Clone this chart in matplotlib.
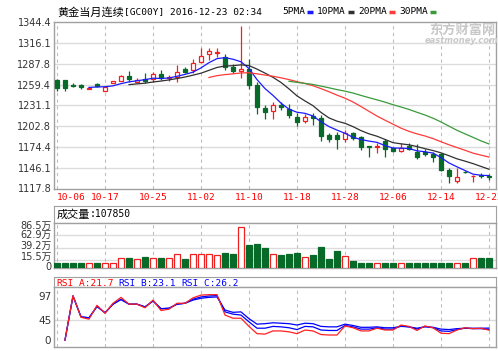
import numpy as np
import pandas as pd
import matplotlib
matplotlib.use('Agg')
import matplotlib.pyplot as plt
from matplotlib.lines import Line2D

plt.rcParams['font.family'] = ['DejaVu Sans', 'Noto Sans CJK SC']

# ---- data ----
date_labels = ['10-06', '10-17', '10-25', '11-02', '11-10', '11-18', '11-28', '12-06', '12-14', '12-22']

opens = [1265.6, 1265.6, 1258.9, 1259.0, 1254.0, 1260.0, 1251.0, 1262.0, 1264.6, 1271.0,
         1263.5, 1267.0, 1267.0, 1274.0, 1268.0, 1269.3, 1280.5, 1279.2, 1290.5, 1300.6,
         1302.5, 1296.9, 1283.7, 1278.0, 1280.6, 1259.4, 1228.0, 1223.8, 1231.5, 1225.7,
         1215.6, 1210.1, 1216.5, 1213.4, 1190.6, 1190.6, 1184.8, 1193.8, 1187.5, 1175.2,
         1174.0, 1183.0, 1172.5, 1169.3, 1175.7, 1167.9, 1167.9, 1164.8, 1164.8, 1143.0,
         1128.4, 1140.3, 1134.5, 1136.0, 1135.5]
highs = [1266.5, 1266.0, 1261.0, 1260.0, 1255.0, 1262.0, 1257.0, 1265.0, 1272.0, 1277.8,
         1268.0, 1275.0, 1277.0, 1279.0, 1272.0, 1286.0, 1283.7, 1293.8, 1309.6, 1309.6,
         1309.6, 1300.6, 1287.0, 1339.0, 1294.2, 1263.3, 1231.5, 1236.0, 1236.0, 1232.9,
         1220.2, 1219.3, 1220.2, 1217.9, 1193.0, 1195.2, 1197.5, 1195.2, 1189.3, 1175.7,
         1180.0, 1184.8, 1174.7, 1180.2, 1179.4, 1178.4, 1171.2, 1167.9, 1166.6, 1145.3,
         1145.3, 1141.0, 1136.0, 1139.3, 1138.0]
lows = [1250.6, 1250.6, 1256.0, 1254.0, 1253.0, 1256.0, 1250.5, 1261.0, 1264.0, 1263.0,
        1261.0, 1262.0, 1263.0, 1266.0, 1265.0, 1262.4, 1275.5, 1275.5, 1288.3, 1292.8,
        1297.0, 1279.2, 1274.7, 1268.0, 1253.3, 1219.0, 1213.0, 1212.0, 1224.7, 1213.4,
        1202.9, 1206.6, 1204.3, 1182.9, 1181.5, 1171.2, 1181.5, 1183.8, 1169.8, 1161.1,
        1166.0, 1160.3, 1168.0, 1168.0, 1170.2, 1157.6, 1162.1, 1154.3, 1142.0, 1124.9,
        1124.9, 1139.0, 1127.0, 1131.7, 1130.0]
closes = [1255.1, 1254.6, 1258.0, 1256.0, 1254.4, 1258.0, 1256.5, 1264.0, 1271.0, 1266.5,
          1265.5, 1264.0, 1274.0, 1269.0, 1270.0, 1276.9, 1277.0, 1289.1, 1298.3, 1305.5,
          1304.5, 1283.7, 1278.2, 1281.0, 1259.4, 1229.2, 1222.4, 1231.5, 1228.4, 1217.9,
          1208.8, 1214.8, 1213.5, 1189.3, 1184.8, 1184.8, 1193.0, 1186.2, 1173.9, 1174.4,
          1176.0, 1171.2, 1169.3, 1173.4, 1171.6, 1160.3, 1164.8, 1160.3, 1143.0, 1134.8,
          1133.9, 1139.8, 1135.5, 1135.0, 1133.0]
# volume in 万
volumes = [9.5, 9.5, 9.5, 9.5, 9.5, 9.5, 9.5, 9.5, 19, 20,
           17.5, 22, 20, 20, 20, 26.5, 18.5, 26.5, 26.5, 26.5,
           25, 28.5, 26.5, 77.8, 44.2, 46, 39, 27, 25.2, 27,
           29.6, 22, 25.2, 39.8, 17, 32.8, 23.3, 13.8, 9.5, 9.5,
           9.5, 9.5, 9.5, 9.5, 9.5, 9.5, 9.5, 9.5, 9.5, 9.5,
           9.5, 9.5, 19, 19, 19]
rsi_a = [np.nan, 0, 98, 50, 46, 76.5, 59, 81, 94, 79, 79, 71, 88, 65, 68, 81, 81, 93, 99, 100,
         100, 55, 48, 48, 30, 14, 13, 20, 20, 18, 14, 22, 20, 12, 11, 11, 31, 27, 20, 20,
         26, 22, 22, 33, 30, 21, 31, 27, 15, 14, 22, 27, 25, 26, 21.7]
rsi_b = [np.nan, 0, 97, 51, 49, 74, 60, 79, 90, 79, 79, 73, 86, 69, 70, 79, 81, 90, 95, 97,
         98, 62, 57, 55, 40, 26, 26, 30, 29, 27, 23, 30, 29, 22, 21, 21, 32, 29, 24, 24,
         27, 24, 24, 31, 29, 24, 30, 27, 20, 19, 23, 26, 25, 25, 23.1]
rsi_c = [np.nan, 0, 97, 51, 49, 74, 60, 79, 89, 79, 79, 73, 86, 69, 70, 79, 81, 88, 92, 94,
         95, 66, 61, 62, 47, 35, 36, 38, 37, 36, 33, 37, 36, 30, 29, 29, 35, 32, 28, 28,
         29, 27, 27, 30, 29, 26, 29, 28, 24, 23, 25, 26, 26, 26, 26.2]

price_ticks = [1117.8, 1146.1, 1174.4, 1202.8, 1231.1, 1259.4, 1287.8, 1316.1, 1344.4]
vol_ticks = [0, 15.5, 39.2, 62.9, 86.5]
vol_labels = ['0', '15.5万', '39.2万', '62.9万', '86.5万']
rsi_ticks = [0, 45, 97]

RED = '#f02020'
GREEN = '#086a28'
FRAME = '#a0a0a0'
GRID = '#dcdcdc'

W, H = 498, 351
def rect(x0, y0, x1, y1):
    return [x0 / W, 1 - y1 / H, (x1 - x0) / W, (y1 - y0) / H]

fig = plt.figure(figsize=(W / 100, H / 100), dpi=100)
fig.patch.set_facecolor('white')

n = len(closes)
x = np.arange(n)
o = np.array(opens); c = np.array(closes)
up = c >= o
xlim = (-0.375, 54.875)
grid_x = list(range(0, n, 6))


def style(ax):
    for s in ax.spines.values():
        s.set_color(FRAME)
        s.set_linewidth(1.0)
    ax.set_xlim(*xlim)
    ax.set_xticks(grid_x)
    ax.tick_params(length=0, labelsize=7, colors='#333333', pad=2)
    ax.grid(axis='x', color='#c0c0c0', linestyle=(0, (3, 3)), linewidth=0.8)
    ax.set_axisbelow(True)


# ---- price panel ----
ax = fig.add_axes(rect(54, 22.3, 496, 188.5))
style(ax)
ax.set_ylim(1117.8, 1344.4)
ax.set_yticks(price_ticks)
ax.set_yticklabels([f'{t:.1f}' for t in price_ticks])
for t in price_ticks[1:-1]:
    ax.axhline(t, color=GRID, lw=1, zorder=0)

for i in range(n):
    col = RED if up[i] else GREEN
    ax.vlines(i, lows[i], highs[i], color=col, lw=0.9, zorder=2)
    lo, hi = min(o[i], c[i]), max(o[i], c[i])
    h = max(hi - lo, 0.5)
    ax.bar(i, h, bottom=lo, width=0.62, facecolor='white' if up[i] else GREEN,
           edgecolor=col, linewidth=0.9, zorder=3)

s = pd.Series(closes)
ma_cols = ['#1a1aff', '#303030', '#ff3a3a', '#3a9a3a']
for win, col in zip([5, 10, 20, 30], ma_cols):
    ax.plot(x, s.rolling(win).mean(), color=col, lw=0.9, zorder=4)

ax.set_xticklabels(date_labels, color='#ff0000', fontsize=6.8, family='DejaVu Sans Mono')
ax.tick_params(axis='x', pad=3)
ax.get_xticklabels()[0].set_ha('left')

# ---- volume panel ----
vh = fig.add_axes(rect(54, 206, 496, 222.7))
for sp in vh.spines.values():
    sp.set_color(FRAME)
vh.set_xticks([]); vh.set_yticks([])
vh.text(3 / 442, 0.5, '成交量', transform=vh.transAxes, va='center', fontsize=8,
        family='Noto Sans CJK SC')
vh.text(36 / 442, 0.5, ':107850', transform=vh.transAxes, va='center', fontsize=7,
        family='DejaVu Sans Mono')

av = fig.add_axes(rect(54, 222.7, 496, 268.3))
style(av)
av.set_ylim(0, 86.5)
av.set_yticks(vol_ticks)
av.set_yticklabels([])
for t in vol_ticks[1:-1]:
    av.axhline(t, color=GRID, lw=1, zorder=0)
av.bar(x, volumes, width=0.7, facecolor=np.where(up, 'white', GREEN),
       edgecolor=np.where(up, RED, GREEN), linewidth=0.9, zorder=3)
av.set_xticklabels([])
# labels are squeezed in the original, so place them by pixel row
for lab, ypx in zip(vol_labels, [267.5, 257, 245.5, 234.5, 225.5]):
    fig.text(52 / W, 1 - ypx / H, lab, fontsize=7, ha='right', va='center', color='#333333')

# ---- RSI panel ----
rh = fig.add_axes(rect(54, 277.3, 496, 287.3))
for sp in rh.spines.values():
    sp.set_color(FRAME)
rh.set_xticks([]); rh.set_yticks([])
for xp, txt, col in [(2, 'RSI_A:21.7', '#ff0000'), (64, 'RSI_B:23.1', '#0000ff'),
                     (127, 'RSI_C:26.2', '#0000ff')]:
    rh.text(xp / 442, 0.45, txt, transform=rh.transAxes, va='center', fontsize=6.8,
            family='DejaVu Sans Mono', color=col)

ar = fig.add_axes(rect(54, 287.3, 496, 347.3))
style(ar)
ar.set_ylim(-16.1, 116.2)
ar.set_yticks(rsi_ticks)
ar.set_yticklabels([str(t) for t in rsi_ticks], fontsize=7.5)
ar.axhline(45, color=GRID, lw=1, zorder=0)
ar.plot(x, rsi_c, color='#0000ff', lw=0.9)
ar.plot(x, rsi_b, color='#0000ff', lw=0.9)
ar.plot(x, rsi_a, color='#ff2020', lw=0.9)
ar.set_xticklabels([])

# ---- title, legend, watermark ----
fig.text(57 / W, 1 - 12 / H, '黄金当月连续', fontsize=8, va='center', family='Noto Sans CJK SC')
fig.text(124 / W, 1 - 12 / H, '[GC00Y] 2016-12-23 02:34', fontsize=6.8, va='center',
         family='DejaVu Sans Mono')
for xp, txt, col in [(282, '5PMA', '#1a1aff'), (317, '10PMA', '#303030'),
                     (358, '20PMA', '#ff3a3a'), (399, '30PMA', '#3a9a3a')]:
    fig.text(xp / W, 1 - 12 / H, txt, fontsize=6.8, va='center', family='DejaVu Sans Mono')
    x0 = xp + len(txt) * 5.7 + 2
    fig.add_artist(Line2D([x0 / W, (x0 + 6) / W], [1 - 12 / H, 1 - 12 / H],
                          color=col, lw=2.5, solid_capstyle='butt'))

fig.text(462 / W, 1 - 30 / H, '东方财富网', fontsize=9.5, va='center', ha='center',
         color='#c8c8c8', weight='bold', family='Noto Sans CJK SC')
fig.text(462 / W, 1 - 40.5 / H, 'eastmoney.com', fontsize=6, va='center', ha='center',
         color='#c8c8c8', weight='bold', style='italic')

plt.savefig('out.png', dpi=100)
